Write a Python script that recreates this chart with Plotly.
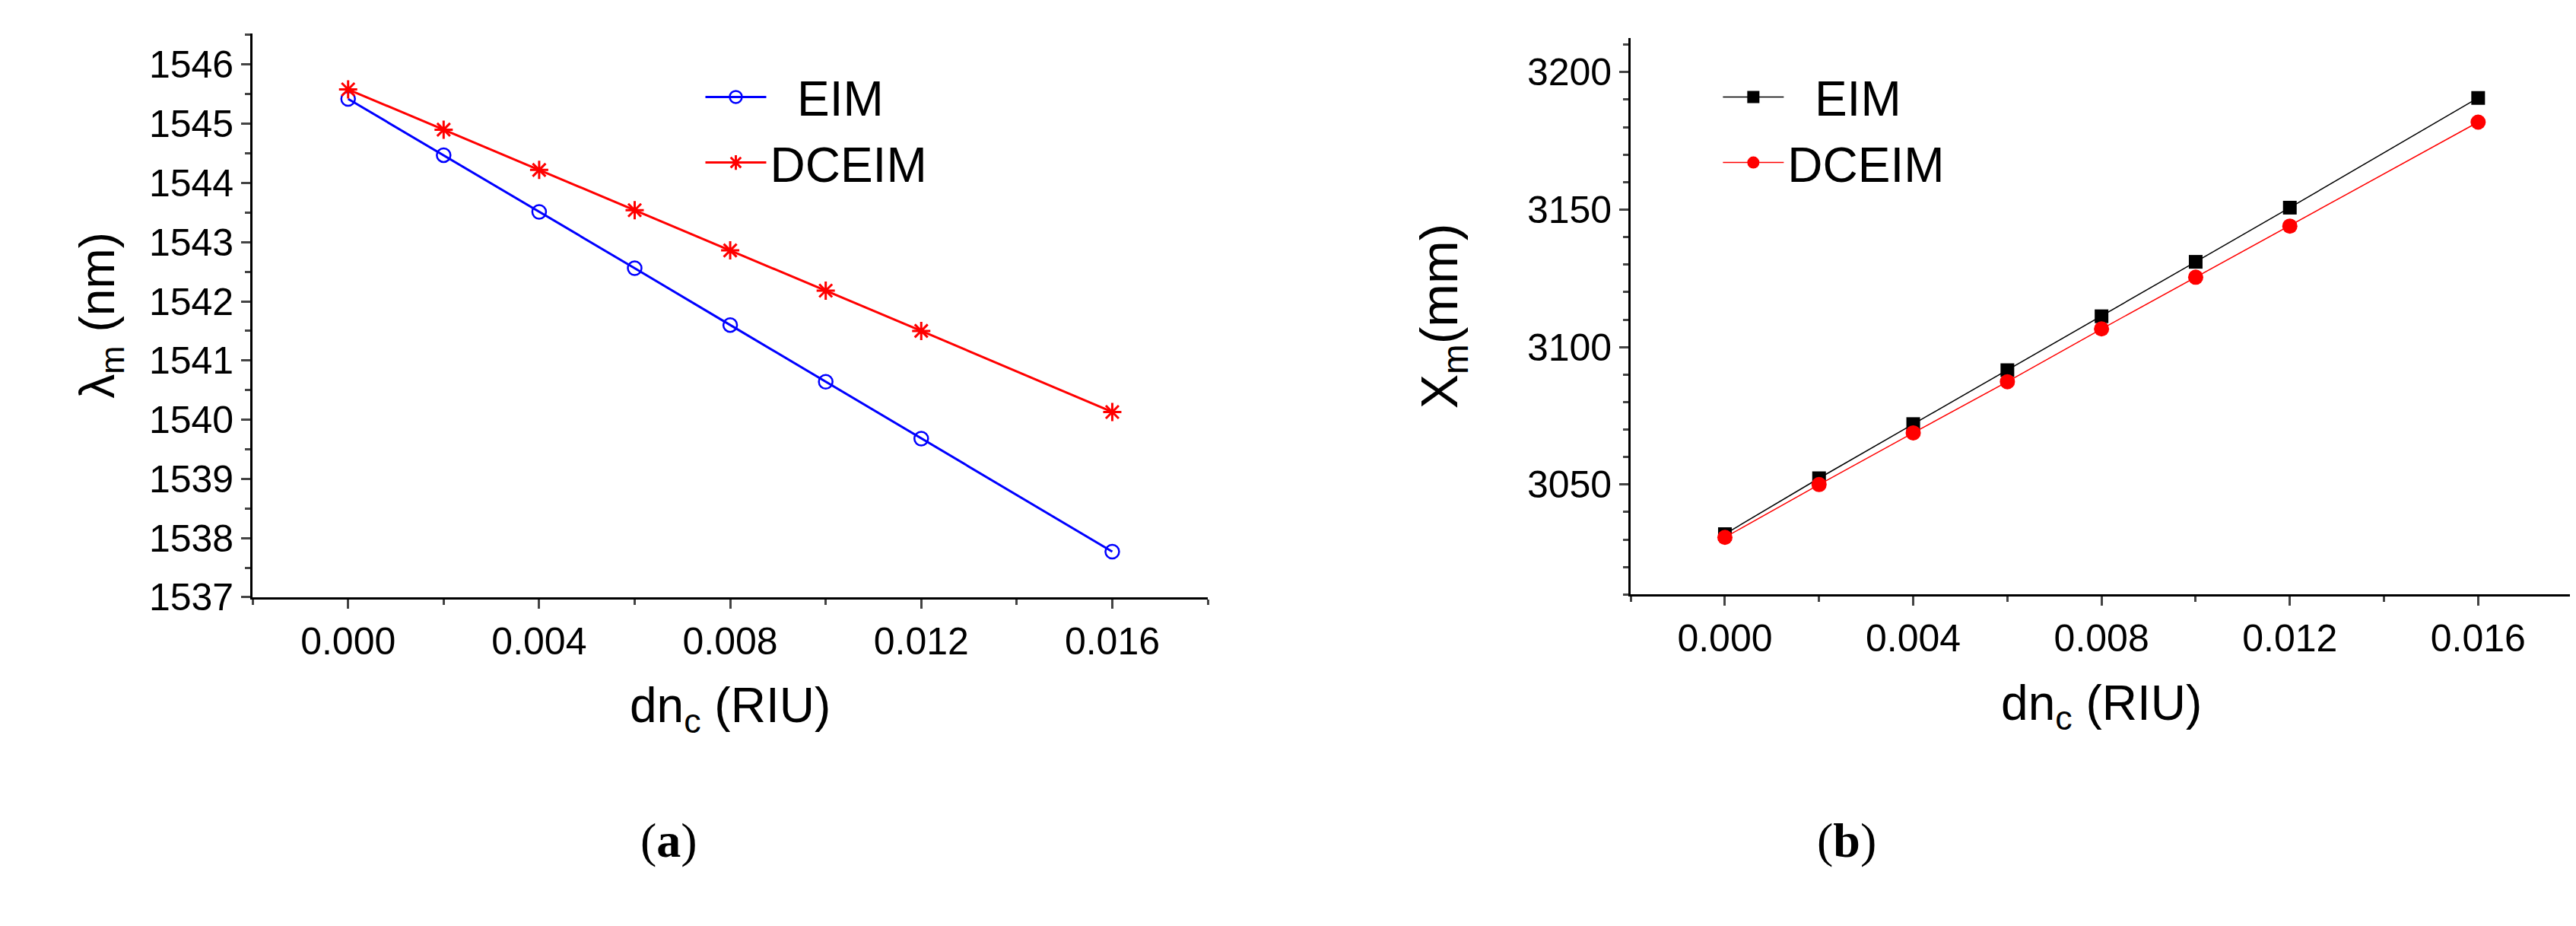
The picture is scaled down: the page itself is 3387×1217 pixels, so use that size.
import plotly.graph_objects as go

dn = [0.0, 0.002, 0.004, 0.006, 0.008, 0.010, 0.012, 0.016]
lam_eim = [1545.42, 1544.47, 1543.51, 1542.56, 1541.60, 1540.64, 1539.68, 1537.77]
lam_dceim = [1545.58, 1544.90, 1544.22, 1543.54, 1542.86, 1542.18, 1541.50, 1540.13]
xm_eim = [3032.0, 3052.3, 3072.0, 3091.6, 3111.2, 3131.0, 3150.7, 3190.6]
xm_dceim = [3030.8, 3050.0, 3068.8, 3087.4, 3106.6, 3125.4, 3144.0, 3181.8]
xticks = [0, 0.004, 0.008, 0.012, 0.016]
xticklabels = ["0.000", "0.004", "0.008", "0.012", "0.016"]

FONT = "Liberation Sans Narrow, Liberation Sans, Arial"
fig = go.Figure()
fig.add_trace(go.Scatter(x=dn, y=lam_eim, name="  EIM", mode="lines+markers",
    line=dict(color="#0000ff", width=3), marker=dict(symbol="circle-open", size=18, color="#0000ff", line=dict(width=2.5)),
    xaxis="x", yaxis="y", legend="legend"))
fig.add_trace(go.Scatter(x=dn, y=lam_dceim, name="DCEIM", mode="lines+markers",
    line=dict(color="#ff0000", width=3), marker=dict(symbol="asterisk-open", size=20, color="#ff0000", line=dict(width=3, color="#ff0000")),
    xaxis="x", yaxis="y", legend="legend"))
fig.add_trace(go.Scatter(x=dn, y=xm_eim, name="  EIM", mode="lines+markers",
    line=dict(color="#000000", width=1.5), marker=dict(symbol="square", size=18, color="#000000"),
    xaxis="x2", yaxis="y2", legend="legend2"))
fig.add_trace(go.Scatter(x=dn, y=xm_dceim, name="DCEIM", mode="lines+markers",
    line=dict(color="#ff0000", width=1.5), marker=dict(symbol="circle", size=20, color="#ff0000"),
    xaxis="x2", yaxis="y2", legend="legend2"))

axcommon = dict(showline=True, linecolor="black", linewidth=3, ticks="outside", ticklen=12, tickwidth=3,
                showgrid=False, zeroline=False, tickfont=dict(family=FONT, size=50, color="black"))
xt = dict(text="dn<sub>c</sub> (RIU)", font=dict(family=FONT, size=64, color="black"), standoff=35)
minor_x = dict(dtick=0.002, ticks="outside", ticklen=7, tickwidth=2.5)
fig.update_layout(
    width=3387, height=1217, margin=dict(l=0, r=0, t=0, b=0),
    paper_bgcolor="white", plot_bgcolor="white",
    xaxis=dict(domain=[0.0957, 0.4665], range=[-0.002, 0.018], tickvals=xticks, ticktext=xticklabels,
               minor=minor_x, anchor="y", title=xt, **axcommon),
    yaxis=dict(domain=[0.346, 0.970], range=[1537, 1546.53], dtick=1, minor=dict(dtick=0.5, ticks="outside", ticklen=7, tickwidth=2.5),
               anchor="x", title=dict(text="λ<sub>m</sub> (nm)", font=dict(family=FONT, size=64, color="black"), standoff=25), **axcommon),
    xaxis2=dict(domain=[0.6307, 0.9962], range=[-0.002, 0.018], tickvals=xticks, ticktext=xticklabels,
               minor=minor_x, anchor="y2", title=xt, **axcommon),
    yaxis2=dict(domain=[0.349, 0.965], range=[3010, 3212.5], dtick=50, minor=dict(dtick=10, ticks="outside", ticklen=7, tickwidth=2.5),
               anchor="x2", title=dict(text="X<sub>m</sub>(mm)", font=dict(family=FONT, size=68, color="black"), standoff=70), **axcommon),
    legend=dict(x=0.27, y=0.94, xanchor="left", yanchor="top", font=dict(family=FONT, size=64, color="black"),
                bgcolor="rgba(0,0,0,0)", itemwidth=80),
    legend2=dict(x=0.665, y=0.94, xanchor="left", yanchor="top", font=dict(family=FONT, size=64, color="black"),
                 bgcolor="rgba(0,0,0,0)", itemwidth=80),
    annotations=[
        dict(text="(<b>a</b>)", x=0.2455, y=1 - 1162/1217, xref="paper", yref="paper", showarrow=False,
             font=dict(family="Liberation Serif", size=64, color="black")),
        dict(text="(<b>b</b>)", x=0.7265, y=1 - 1162/1217, xref="paper", yref="paper", showarrow=False,
             font=dict(family="Liberation Serif", size=64, color="black")),
    ],
)
fig.write_html("out.html")
